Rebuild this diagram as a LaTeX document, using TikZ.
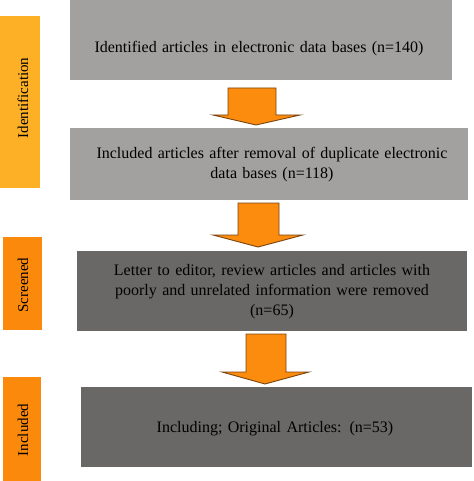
\documentclass[tikz,border=0pt]{standalone}
\usepackage{fontspec}
\setmainfont{Liberation Serif}
\usepackage{tikz}
\usetikzlibrary{positioning}

\definecolor{lightbox}{HTML}{A3A1A0}
\definecolor{darkbox}{HTML}{6A6867}
\definecolor{stageyellow}{HTML}{FDB026}
\definecolor{stageorange}{HTML}{FB8A0C}
\definecolor{arrowfill}{HTML}{FB8C0E}
\definecolor{arrowline}{HTML}{7A4410}

\begin{document}
\begin{tikzpicture}[
    x=1pt, y=-1pt,
    box/.style={inner sep=0pt, align=center, font=\fontsize{16}{20}\selectfont, text width=#1},
    stage/.style={rotate=90, inner sep=0pt, font=\fontsize{15}{16}\selectfont},
    bigarrow/.style={fill=arrowfill, draw=arrowline, line width=0.9pt, line join=miter}
]
\useasboundingbox (0, 0) rectangle (473, 481);

% stage bars on the left
\fill[stageyellow] (0, 16) rectangle (40, 188);
\fill[stageorange] (3, 237) rectangle (42, 330);
\fill[stageorange] (3, 377) rectangle (41, 481);
\node[stage] (ident) at (23, 98) {Identification};
\node[stage] (screen) at (23, 285) {Screened};
\node[stage] (incl) at (23, 430) {Included};

% flow boxes
\fill[lightbox] (70, 0) rectangle (452, 80);
\fill[lightbox] (70, 128) rectangle (468, 200);
\fill[darkbox] (77, 251) rectangle (467, 331);
\fill[darkbox] (81, 387) rectangle (472, 467);
\node[box=380pt] (found) at (259, 49) {Identified articles in electronic data bases (n=140)};
\node[box=390pt] (dupl) at (272, 165) {Included articles after removal of duplicate electronic\\ data bases (n=118)};
\node[box=390pt] (screened) at (272, 292) {Letter to editor, review articles and articles with\\ poorly and unrelated information were removed\\ (n=65)};
\node[box=390pt] (orig) at (275, 429) {Including; Original Articles: (n=53)};

% block arrows between the boxes
\draw[bigarrow] (228, 88) -- (276, 88) -- (276, 115) -- (300, 115) -- (256, 125)
    -- (213, 115) -- (228, 115) -- cycle;
\draw[bigarrow] (238, 203) -- (279, 203) -- (279, 235) -- (303, 235) -- (258, 247)
    -- (213, 235) -- (238, 235) -- cycle;
\draw[bigarrow] (246, 334) -- (286, 334) -- (286, 372) -- (309, 372) -- (265, 384)
    -- (222, 372) -- (246, 372) -- cycle;
\end{tikzpicture}
\end{document}
